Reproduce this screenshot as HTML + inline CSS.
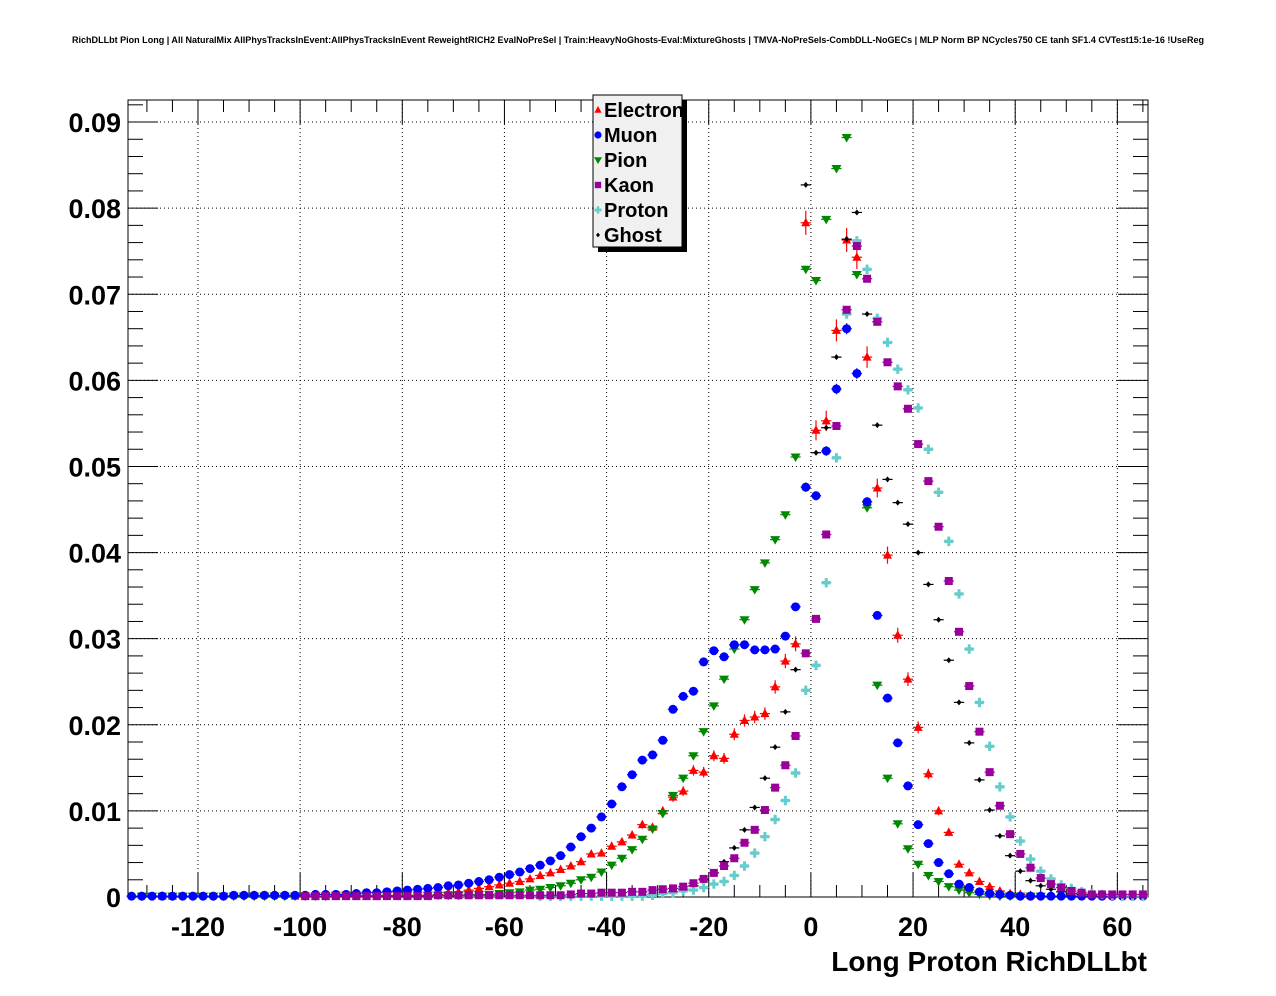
<!DOCTYPE html>
<html><head><meta charset="utf-8"><style>
html,body{margin:0;padding:0;background:#fff;}
svg{display:block;font-family:"Liberation Sans",Arial,sans-serif;}
</style></head><body>
<svg id="chart" width="1276" height="996" viewBox="0 0 1276 996" xmlns="http://www.w3.org/2000/svg">
<rect width="1276" height="996" fill="#fff"/>
<text x="72" y="43" font-size="9" font-weight="bold" textLength="1132" lengthAdjust="spacingAndGlyphs">RichDLLbt Pion Long | All NaturalMix AllPhysTracksInEvent:AllPhysTracksInEvent ReweightRICH2 EvalNoPreSel | Train:HeavyNoGhosts-Eval:MixtureGhosts | TMVA-NoPreSels-CombDLL-NoGECs | MLP Norm BP NCycles750 CE tanh SF1.4 CVTest15:1e-16 !UseReg</text>
<g id="grid"></g>
<g id="axes"></g>
<g id="marks"></g>
<g id="legend"></g>
<text x="1147" y="971" font-size="28" font-weight="bold" text-anchor="end">Long Proton RichDLLbt</text>
</svg>
<script>
const binStart = -133, binWidth = 2;
const xTicks = [-120,-100,-80,-60,-40,-20,0,20,40,60];
const yTicks = [0,0.01,0.02,0.03,0.04,0.05,0.06,0.07,0.08,0.09];
const yTickLabels = ["0","0.01","0.02","0.03","0.04","0.05","0.06","0.07","0.08","0.09"];
const seriesNames = ["Electron","Muon","Pion","Kaon","Proton","Ghost"];
function rep(v,n){return Array(n).fill(v);}
const electron = [].concat(rep(0,3),[0.0001,0.0001],rep(0,11),rep(0.0001,9),rep(0.0002,5),
 [0.0003,0.0005,0.0006,0.0008,0.0010,0.0012,0.0014,0.0016,0.0018,0.0021,0.0025,0.0028,0.0032,0.0036],
 [0.0041,0.0050,0.0051,0.0059,0.0064,0.0072,0.0084,0.0081,0.0100,0.0116,0.0123,0.0147,0.0145,0.0164,0.0161,0.0189,0.0205,0.0209,0.0213,0.0244,0.0274,0.0294,0.0783],
 [0.0542,0.0553,0.0658,0.0763,0.0743,0.0627,0.0475,0.0397,0.0304,0.0253,0.0197,0.0143,0.0100,0.0075,0.0038,0.0028,0.0018,0.0012,0.0007,0.0004,0.0003,0.0002],rep(0,11));
const muon = [].concat(rep(0.0001,10),rep(0.0002,8),rep(0.0003,4),
 [0.0004,0.0005,0.0005,0.0006,0.0007,0.0008,0.0009,0.0010,0.0011],
 [0.0013,0.0014,0.0016,0.0018,0.0020,0.0023,0.0026,0.0029,0.0033,0.0037,0.0042,0.0048,0.0058],
 [0.0070,0.0080,0.0093,0.0108,0.0128,0.0142,0.0159,0.0165,0.0182,0.0218,0.0233,0.0239,0.0273,0.0286,0.0279,0.0293,0.0293,0.0287,0.0287,0.0288,0.0303,0.0337,0.0476],
 [0.0466,0.0518,0.0590,0.0660,0.0608,0.0459,0.0327,0.0231,0.0179,0.0129,0.0084,0.0062,0.0040,0.0027,0.0015,0.0011,0.0006,0.0004,0.0003,0.0002],rep(0.0001,13));
const pion = [].concat(rep(0,1),rep(0.0001,19),rep(0.0002,10),
 [0.0002,0.0002,0.0002,0.0003,0.0003,0.0003,0.0004,0.0005,0.0006,0.0008,0.0009,0.0011,0.0013,0.0016],
 [0.0020,0.0023,0.0029,0.0037,0.0045,0.0055,0.0067,0.0079,0.0097,0.0118,0.0138,0.0164,0.0192,0.0222,0.0253,0.0288,0.0322,0.0357,0.0388,0.0415,0.0444,0.0511,0.0729],
 [0.0716,0.0787,0.0846,0.0882,0.0723,0.0452,0.0246,0.0138,0.0085,0.0056,0.0038,0.0025,0.0018,0.0012,0.0008,0.0005,0.0003,0.0002],rep(0.0001,5),rep(0,10));
const kaon = [].concat(rep(0,17),rep(0.0001,13),rep(0.0002,13),
 [0.0003,0.0004,0.0004,0.0005,0.0005,0.0005,0.0006,0.0006,0.0008,0.0009,0.0010,0.0012,0.0016,0.0021,0.0028,0.0036,0.0045,0.0063,0.0078,0.0101,0.0127,0.0153,0.0187,0.0283],
 [0.0323,0.0421,0.0547,0.0682,0.0756,0.0718,0.0668,0.0621,0.0593,0.0567,0.0526,0.0483,0.0430,0.0367,0.0308,0.0245,0.0192,0.0145,0.0106,0.0073,0.0050,0.0034,0.0022,0.0015,0.0011,0.0007,0.0005],rep(0.0003,6));
const proton = [].concat(rep(0,40),rep(0.0001,11),
 [0.0002,0.0004,0.0005,0.0007,0.0008,0.0011,0.0015,0.0018,0.0025,0.0036,0.0051,0.0070,0.0090,0.0112,0.0144,0.0240],
 [0.0269,0.0365,0.0510,0.0677,0.0762,0.0729,0.0672,0.0644,0.0613,0.0589,0.0568,0.0520,0.0470,0.0413,0.0352,0.0288,0.0226,0.0175,0.0128,0.0093,0.0065,0.0044,0.0030,0.0021,0.0014,0.0010,0.0006,0.0004,0.0003,0.0002],rep(0.0001,3));
const ghost = [].concat(rep(0,51),
 [0.0003,0.0004,0.0006,0.0009,0.0013,0.0020,0.0028,0.0041,0.0057,0.0078,0.0104,0.0138,0.0174,0.0215,0.0264,0.0827],
 [0.0516,0.0545,0.0627,0.0764,0.0795,0.0677,0.0548,0.0485,0.0458,0.0433,0.0400,0.0363,0.0322,0.0275,0.0226,0.0179,0.0136,0.0101,0.0071,0.0048,0.0030,0.0019,0.0013,0.0009,0.0006,0.0004,0.0003,0.0002],rep(0.0001,5));

const NS="http://www.w3.org/2000/svg";
const L=128,R=1148,T=100,B=897, XMIN=-133.7, XMAX=66, YMIN=0, YMAX=0.09256;
function sx(v){return L+(v-XMIN)/(XMAX-XMIN)*(R-L);}
function sy(v){return B-(v-YMIN)/(YMAX-YMIN)*(B-T);}
function mk(tag,attrs,parent){const e=document.createElementNS(NS,tag);for(const k in attrs)e.setAttribute(k,attrs[k]);parent.appendChild(e);return e;}
const grid=document.getElementById('grid'), axes=document.getElementById('axes'), marks=document.getElementById('marks'), legend=document.getElementById('legend');

xTicks.forEach(t=>{const x=sx(t);
 const g=mk('line',{x1:x,x2:x,y1:T,y2:B,stroke:'#000','stroke-width':1,'stroke-dasharray':'1,3'},grid);
 
 });
yTicks.forEach(t=>{if(t===0)return;const y=sy(t);
 const g=mk('line',{x1:L,x2:R,y1:y,y2:y,stroke:'#000','stroke-width':1,'stroke-dasharray':'1,3'},grid);
 
 });

const frame=mk('rect',{x:L,y:T,width:R-L,height:B-T,fill:'none',stroke:'#000','stroke-width':1},axes);


for(let v=-130;v<=65;v+=5){const x=sx(v);const major=(v%20===0);const len=major?24:12;
 mk('line',{x1:x,x2:x,y1:B,y2:B-len,stroke:'#000'},axes);
 mk('line',{x1:x,x2:x,y1:T,y2:T+len,stroke:'#000'},axes);}
for(let i=0;i<=46;i++){const v=i*0.002;if(v>YMAX)break;const y=sy(v);const major=(i%5===0);const len=major?30:15;
 mk('line',{x1:L,x2:L+len,y1:y,y2:y,stroke:'#000'},axes);
 mk('line',{x1:R,x2:R-len,y1:y,y2:y,stroke:'#000'},axes);}
xTicks.forEach((t,i)=>{const tx=mk('text',{x:sx(t),y:936,'font-size':27,'font-weight':'bold','text-anchor':'middle'},axes);
 tx.textContent=String(t);
 
 });
yTicks.forEach((t,i)=>{const tx=mk('text',{x:121,y:sy(t)+10,'font-size':27,'font-weight':'bold','text-anchor':'end'},axes);
 tx.textContent=yTickLabels[i];
 
 });

const styles={
 Electron:{c:'#ff0000',shape:'tri',err:0.005},
 Muon:{c:'#0000ff',shape:'circle',err:0.0025},
 Pion:{c:'#008800',shape:'tridown',err:0},
 Kaon:{c:'#990099',shape:'square',err:0},
 Proton:{c:'#66cccc',shape:'cross',err:0},
 Ghost:{c:'#000000',shape:'diamond',err:0}};
function marker(shape,x,y,c,parent,s){s=s||1;
 if(shape==='tri')return mk('polygon',{points:`${x},${y-5*s} ${x-4.5*s},${y+3.5*s} ${x+4.5*s},${y+3.5*s}`,fill:c},parent);
 if(shape==='tridown')return mk('polygon',{points:`${x},${y+5*s} ${x-5*s},${y-3.5*s} ${x+5*s},${y-3.5*s}`,fill:c},parent);
 if(shape==='circle')return mk('circle',{cx:x,cy:y,r:4.5*s,fill:c},parent);
 if(shape==='square')return mk('rect',{x:x-4*s,y:y-4*s,width:8*s,height:8*s,fill:c},parent);
 if(shape==='cross')return mk('path',{d:`M${x-4.5*s},${y-1.7*s}h${3*s}v${-3*s}h${3*s}v${3*s}h${3*s}v${3.4*s}h${-3*s}v${3*s}h${-3*s}v${-3*s}h${-3*s}z`,fill:c},parent);
 return mk('polygon',{points:`${x},${y-3*s} ${x+2.5*s},${y} ${x},${y+3*s} ${x-2.5*s},${y}`,fill:c},parent);}
const allSeries=[electron,muon,pion,kaon,proton,ghost];
const order=[0,5,2,1,4,3];
order.forEach(si=>{const name=seriesNames[si], st=styles[name], data=allSeries[si];
 const g=mk('g',{},marks);
 
 
 data.forEach((v,i)=>{if(v<=0)return;const b=binStart+i*binWidth;const x=sx(b), y=sy(v);
  if(y<T||x<L||x>R)return;
  mk('line',{x1:sx(b-1),x2:sx(b+1),y1:y,y2:y,stroke:st.c,'stroke-width':1.2},g);
  if(st.err>0){const e=st.err*Math.sqrt(v);mk('line',{x1:x,x2:x,y1:sy(v+e),y2:sy(Math.max(0,v-e)),stroke:st.c,'stroke-width':1.2},g);}
  const m=marker(st.shape,x,y,st.c,g);
  
  });});

mk('rect',{x:598,y:100,width:89,height:152,fill:'#000'},legend);
const lb=mk('rect',{x:593,y:95,width:89,height:152,fill:'#f0f0f0',stroke:'#000','stroke-width':1},legend);


seriesNames.forEach((n,i)=>{const y=110+i*25;const st=styles[n];
 const g=mk('g',{},legend);
 
 
 marker(st.shape,598,y,st.c,g,0.8);
 const t=mk('text',{x:604,y:y+7,'font-size':20,'font-weight':'bold'},g);t.textContent=n;});
</script>
</body></html>
